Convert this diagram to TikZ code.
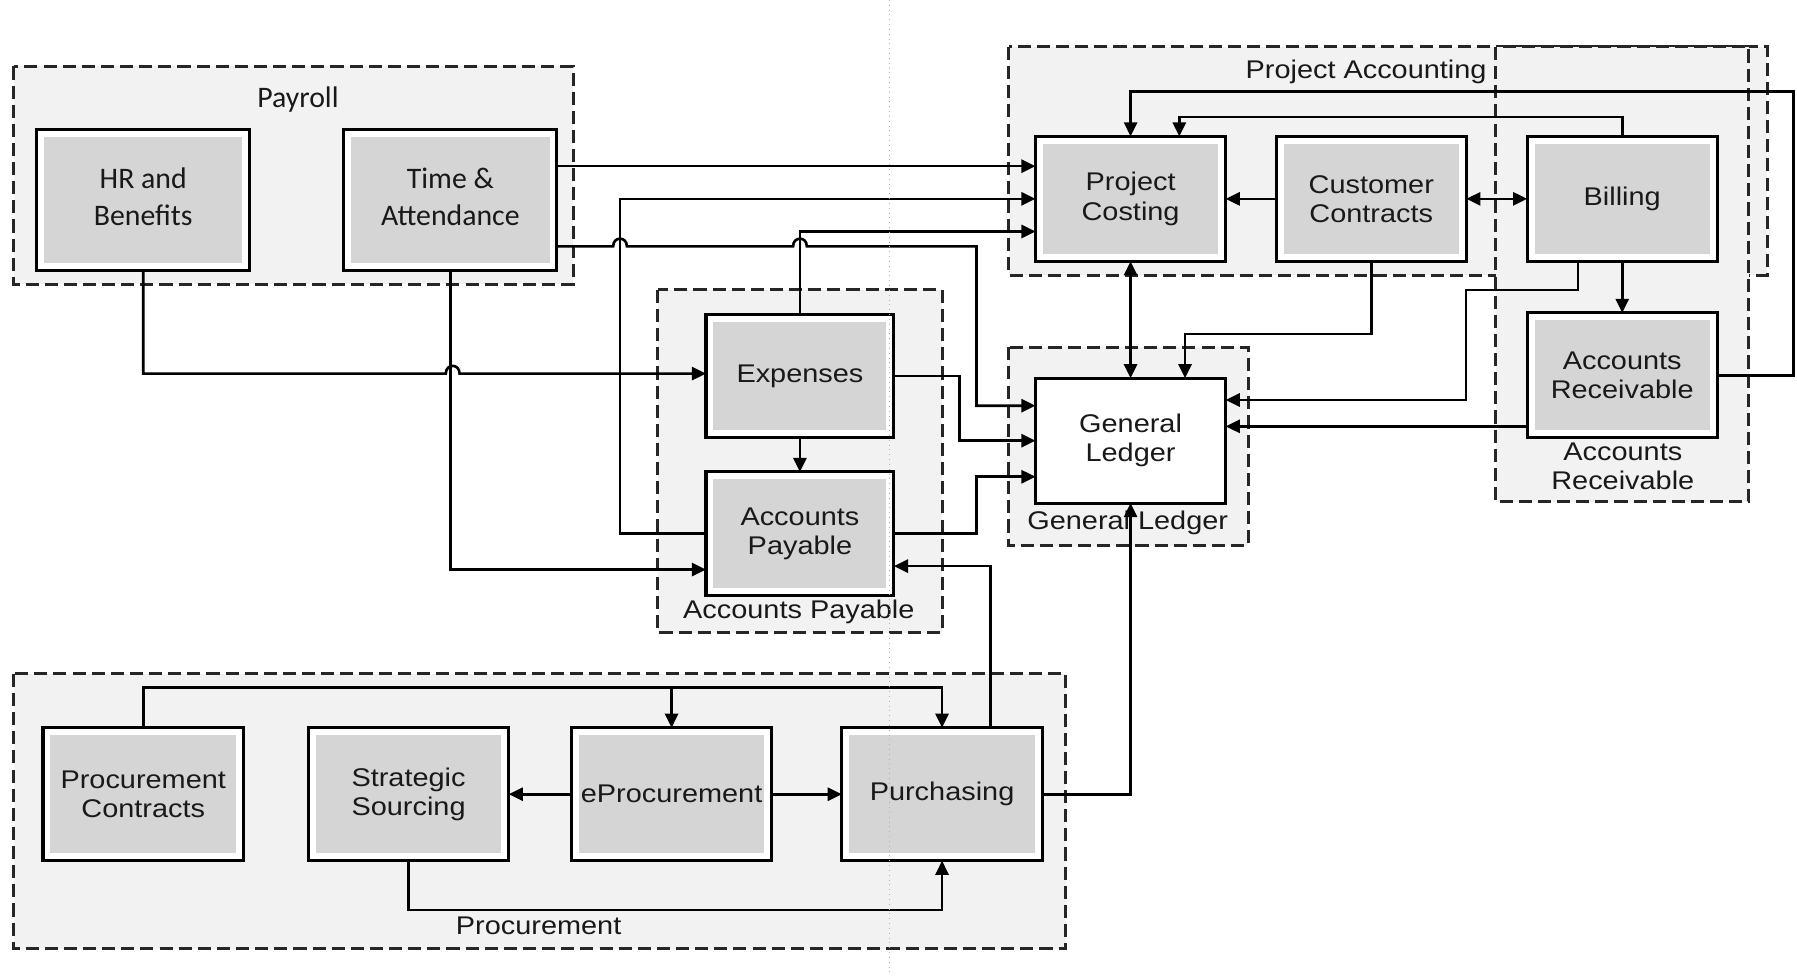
\documentclass[tikz,border=0pt]{standalone}
\usepackage{fontspec}
\usetikzlibrary{arrows.meta,calc}
\newfontfamily\lblfont{Liberation Sans}[FakeStretch=1.13]
\newfontfamily\calfont{Carlito}
\definecolor{boxgrey}{RGB}{213,213,213}
\definecolor{grpfill}{RGB}{242,242,242}
\definecolor{inkc}{RGB}{25,25,25}
% two-line caption lifted slightly inside its box
\newcommand{\liftpair}[2]{\raisebox{0.1cm}{\begin{tabular}{@{}c@{}}#1\\#2\end{tabular}}}

\tikzset{
  blk/.style={draw=black, line width=1.5pt, fill=white, inner sep=0pt, outer sep=0pt,
    align=center, text=inkc, font=\lblfont\fontsize{12.7}{14.5}\selectfont,
    path picture={\fill[boxgrey] ([shift={(0.13cm,-0.13cm)}]path picture bounding box.north west)
      rectangle ([shift={(-0.13cm,0.13cm)}]path picture bounding box.south east);}},
  pabox/.style={blk, minimum width=3.32cm, minimum height=2.18cm},
  glbox/.style={draw=black, line width=1.5pt, fill=white, inner sep=0pt, outer sep=0pt,
    align=center, text=inkc, font=\lblfont\fontsize{12.7}{14.5}\selectfont,
    minimum width=3.32cm, minimum height=2.18cm},
  apbox/.style={blk, minimum width=3.28cm, minimum height=2.15cm},
  prbox/.style={blk, minimum width=3.5cm, minimum height=2.32cm},
  paybox/.style={blk, minimum width=3.72cm, minimum height=2.46cm,
    font=\calfont\fontsize{14.8}{18.3}\selectfont},
  grp/.style={draw=black!85, line width=1.5pt, dash pattern=on 6.5pt off 3pt, fill=grpfill},
  grplbl/.style={inner sep=0pt, align=center, text=inkc, font=\lblfont\fontsize{12.7}{14.5}\selectfont},
  arr/.style={draw=black, line width=1.3pt, -{Triangle[length=7pt,width=6.5pt]}},
  dbl/.style={draw=black, line width=1.3pt, {Triangle[length=7pt,width=6.5pt]}-{Triangle[length=7pt,width=6.5pt]}},
  faint/.style={draw=black!30, line width=0.4pt, dotted}
}

\begin{document}
\begin{tikzpicture}[x=0.02cm, y=-0.02cm]
  % page
  \fill[white] (0,0) rectangle (1568,851);
  \useasboundingbox (0,0) rectangle (1568,851);

  % routing levels and columns
  \coordinate (h80) at (0,80);
  \coordinate (h145) at (0,145);
  \coordinate (h202) at (0,202);
  \coordinate (h215) at (0,215);
  \coordinate (h253) at (0,253);
  \coordinate (h349) at (0,349);
  \coordinate (h354) at (0,354);
  \coordinate (h372) at (0,372);
  \coordinate (h416) at (0,416);
  \coordinate (h494) at (0,494);
  \coordinate (h497) at (0,497);
  \coordinate (h600) at (0,600);
  \coordinate (h794) at (0,794);
  \coordinate (v541) at (541,0);
  \coordinate (v837) at (837,0);
  \coordinate (v852) at (852,0);
  \coordinate (v864) at (864,0);
  \coordinate (v1029) at (1029,0);
  \coordinate (v1034) at (1034,0);
  \coordinate (v1279) at (1279,0);
  \coordinate (v1377) at (1377,0);
  \coordinate (v1565) at (1565,0);

  % module groups
  \draw[grp] (12,58) rectangle (500,248);
  \draw[grp] (880,41) rectangle (1542,240);
  \draw[grp] (1305,41) rectangle (1526,438);
  \draw[grp] (574,253) rectangle (822,552);
  \draw[grp] (880,303) rectangle (1089,476);
  \draw[grp] (12,588) rectangle (930,828);

  % group titles
  \node[grplbl, font=\calfont\fontsize{14.8}{18.3}\selectfont] (tPay) at (260,87) {Payroll};
  \node[grplbl] (tPA) at (1192,63) {Project Accounting};
  \node[grplbl] (tAP) at (697,534) {Accounts Payable};
  \node[grplbl] (tGL) at (984,456) {General Ledger};
  \node[grplbl] (tAR) at (1416,407) {Accounts\\Receivable};
  \node[grplbl] (tPr) at (470,808) {Procurement};

  % modules
  \node[paybox] (HR) at (125,174.5) {\liftpair{HR and}{Benefits}};
  \node[paybox] (TA) at (393,174.5) {\liftpair{Time \&}{Attendance}};
  \node[pabox] (PC) at (986.5,173.5) {Project\\Costing};
  \node[pabox] (CC) at (1196.5,173.5) {Customer\\Contracts};
  \node[pabox] (BI) at (1415.5,173.5) {Billing};
  \node[pabox] (AR) at (1415.5,327.5) {Accounts\\Receivable};
  \node[glbox] (GL) at (986.5,384.5) {General\\Ledger};
  \node[apbox] (EX) at (698,328) {Expenses};
  \node[apbox] (AP) at (698,465.5) {Accounts\\Payable};
  \node[prbox] (PRC) at (125,693) {Procurement\\Contracts};
  \node[prbox] (SS) at (356.5,693) {Strategic\\Sourcing};
  \node[prbox] (EP) at (586,693) {eProcurement};
  \node[prbox] (PU) at (822,693) {Purchasing};

  % payroll flows
  \draw[arr] (TA.east |- h145) -- (PC.west |- h145);
  \draw[arr] (TA.east |- h215) -- (535,215) .. controls (535,206) and (547,206) .. (547,215)
    -- (692,215) .. controls (692,206) and (704,206) .. (704,215)
    -- (v852 |- h215) |- (GL.west |- h354);
  \draw[arr] (HR.south) |- (389,326) .. controls (389,317) and (401,317) .. (401,326) -- (EX.west |- 0,326);
  \draw[arr] (TA.south) |- (AP.west |- h497);

  % payables flows
  \draw[arr] (AP.west) -| (v541 |- PC.west) -- (PC.west);
  \draw[arr] (EX.north) |- (PC.west |- h202);
  \draw[arr] (EX.south) -- (AP.north);
  \draw[arr] (EX.east) -| (v837 |- GL.west) -- (GL.west);
  \draw[arr] (AP.east) -| (v852 |- h416) -- (GL.west |- h416);

  % project accounting flows
  \draw[dbl] (PC.south) -- (GL.north);
  \draw[arr] (CC.west) -- (PC.east);
  \draw[dbl] (CC.east) -- (BI.west);
  \draw[arr] (CC.south) -- ++(0,63.5) -| (GL.north -| v1034);
  \draw[arr] (BI.north) -- ++(0,-17) -| (PC.north -| v1029);
  \draw[arr] (AR.east) -| (h80 -| v1565) -| (PC.north);
  \draw[arr] (BI.south) -- (AR.north);
  \draw[arr] (BI.south -| v1377) -- (h253 -| v1377) -| (h349 -| v1279) -- (GL.east |- h349);
  \draw[arr] (AR.west |- h372) -- (GL.east |- h372);

  % procurement flows
  \draw[arr] (PRC.north) |- (PU.north |- h600) -- (PU.north);
  \draw[arr] (EP.north |- h600) -- (EP.north);
  \draw[arr] (EP.west) -- (SS.east);
  \draw[arr] (EP.east) -- (PU.west);
  \draw[arr] (SS.south) |- (PU.south |- h794) -- (PU.south);
  \draw[arr] (PU.north -| v864) |- (AP.east |- h494);
  \draw[arr] (PU.east) -| (GL.south);

  % fold line
  \draw[faint] (776,0) -- (776,851);
\end{tikzpicture}
\end{document}
